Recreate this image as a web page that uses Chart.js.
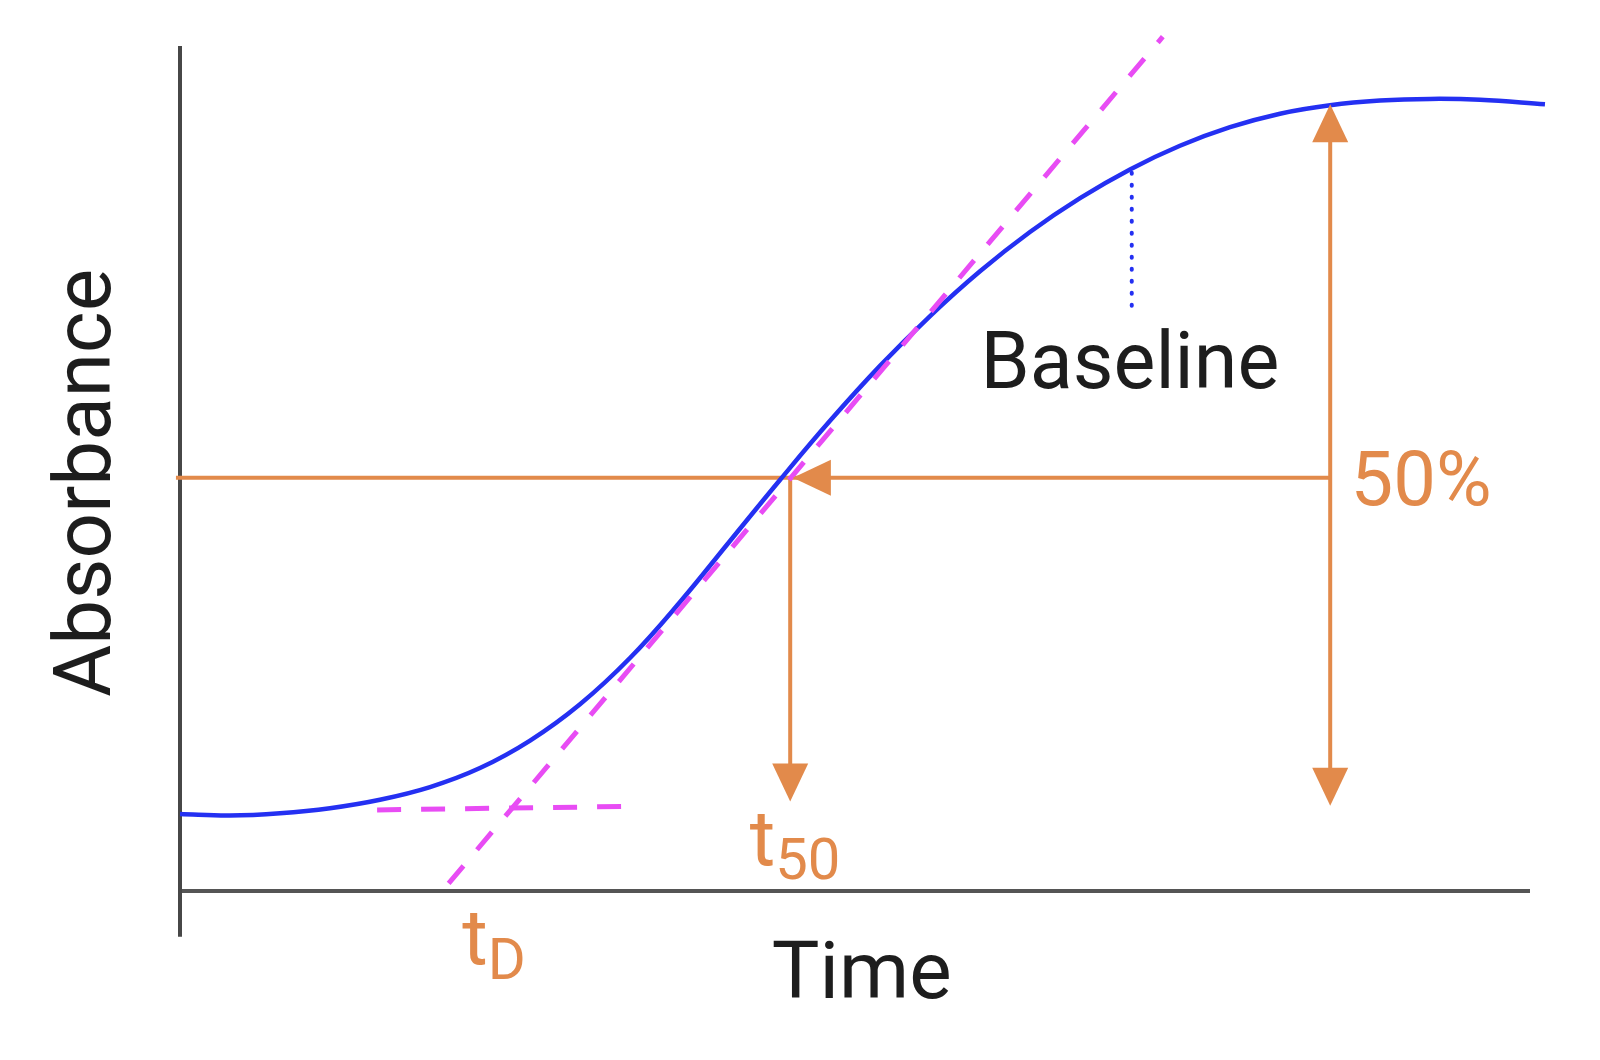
<!DOCTYPE html>
<html><head><meta charset="utf-8">
<script src="https://cdn.jsdelivr.net/npm/chart.js@4.4.0/dist/chart.umd.min.js"></script>
<style>html,body{margin:0;padding:0;background:#fff;}#wrap{width:1600px;height:1060px;position:relative;}</style>
</head><body><div id="wrap"><canvas id="c"></canvas></div>
<script>
// ---- data (time in arbitrary units, absorbance in % of axis height) ----
const curveTime = [0, 3.70, 7.41, 11.11, 14.81, 18.52, 22.22, 25.93, 29.63, 33.33, 37.04, 40.74, 44.44, 48.15, 51.85, 55.56, 59.26, 62.96, 66.67, 70.37, 74.07, 77.78, 81.48, 85.19, 88.89, 92.59, 96.30, 101.11];
const curveAbs  = [9.11, 8.93, 9.20, 9.80, 10.80, 12.30, 14.55, 17.80, 22.10, 27.57, 34.20, 41.42, 48.64, 55.64, 62.14, 68.04, 73.34, 77.99, 81.99, 85.39, 88.19, 90.39, 91.99, 92.99, 93.54, 93.74, 93.64, 93.10];
const tangentTime = [19.9, 72.8];
const tangentAbs  = [0.9, 101.1];
const lagTime = [14.6, 32.8];
const lagAbs  = [9.6, 10.0];
const halfLevel = 48.9;
const halfStart = -0.3;
const t50Time = 45.2;
const t50Tip = 10.6;
const leftTipTime = 45.4;
const plateauTime = 85.2;
const plateauTop = 93.1;
const plateauBottom = 10.1;
const baselineMarkTime = 70.5;
const baselineMarkAbs = [85.0, 69.1];
const axisTime = [0, 100];
const axisAbs = [-5.4, 100];
// label anchors (data units)
const labelText  = ['Absorbance', 'Time', 'Baseline', '50%'];
const labelTime  = [-5.2, 50.5, 59.3, 86.7];
const labelAbs   = [48.3, -12.7, 59.5, 45.7];
const subLabelMain = ['t', 't'];
const subLabelSub  = ['50', 'D'];
const subLabelTime = [42.2, 20.9];
const subLabelAbs  = [3.1, -8.6];
const subLabelSubAbs = [1.4, -10.4];

const ORANGE = '#E28A4B', BLUE = '#2430F2', MAGENTA = '#E84CF4', AXIS = '#474747', TEXT = '#1d1d1d';
const pts = (xs, ys) => xs.map((x, i) => ({x, y: ys[i]}));

const arrowHeads = [
  {x: plateauTime, y: plateauTop, dir: 'up'},
  {x: plateauTime, y: plateauBottom, dir: 'down'},
  {x: t50Time, y: t50Tip, dir: 'down'},
  {x: leftTipTime, y: halfLevel, dir: 'left'}
];

const overlay = {
  id: 'overlay',
  afterDatasetsDraw(chart) {
    const ctx = chart.ctx, sx = chart.scales.x, sy = chart.scales.y;
    ctx.save();
    ctx.fillStyle = ORANGE;
    const L = 38, W = 18;
    arrowHeads.forEach(a => {
      const px = sx.getPixelForValue(a.x), py = sy.getPixelForValue(a.y);
      ctx.beginPath();
      if (a.dir === 'up') { ctx.moveTo(px, py); ctx.lineTo(px - W, py + L); ctx.lineTo(px + W, py + L); }
      if (a.dir === 'down') { ctx.moveTo(px, py); ctx.lineTo(px - W, py - L); ctx.lineTo(px + W, py - L); }
      if (a.dir === 'left') { ctx.moveTo(px, py); ctx.lineTo(px + L, py - W); ctx.lineTo(px + L, py + W); }
      ctx.closePath(); ctx.fill();
    });
    ctx.textBaseline = 'alphabetic';
    ctx.fillStyle = TEXT;
    ctx.font = '400 80px Roboto';
    ctx.save();
    ctx.translate(sx.getPixelForValue(labelTime[0]), sy.getPixelForValue(labelAbs[0]));
    ctx.rotate(-Math.PI / 2);
    ctx.textAlign = 'center';
    ctx.fillText(labelText[0], 0, 0);
    ctx.restore();
    ctx.textAlign = 'center';
    ctx.fillText(labelText[1], sx.getPixelForValue(labelTime[1]), sy.getPixelForValue(labelAbs[1]));
    ctx.textAlign = 'left';
    ctx.font = '400 79px Roboto';
    ctx.fillText(labelText[2], sx.getPixelForValue(labelTime[2]), sy.getPixelForValue(labelAbs[2]));
    ctx.fillStyle = ORANGE;
    ctx.font = '400 76px Roboto';
    ctx.fillText(labelText[3], sx.getPixelForValue(labelTime[3]), sy.getPixelForValue(labelAbs[3]));
    for (let i = 0; i < subLabelMain.length; i++) {
      const px = sx.getPixelForValue(subLabelTime[i]);
      ctx.font = '400 78px Roboto';
      ctx.fillText(subLabelMain[i], px, sy.getPixelForValue(subLabelAbs[i]));
      const w = ctx.measureText(subLabelMain[i]).width;
      ctx.font = '400 58px Roboto';
      ctx.fillText(subLabelSub[i], px + w, sy.getPixelForValue(subLabelSubAbs[i]));
    }
    ctx.restore();
  }
};

const line = (data, color, width, extra) => Object.assign({
  data, borderColor: color, borderWidth: width, showLine: true, pointRadius: 0, fill: false, clip: false
}, extra || {});

new Chart(document.getElementById('c'), {
  type: 'scatter',
  data: {
    datasets: [
      line(pts(tangentTime, tangentAbs), MAGENTA, 5, {borderDash: [23, 21]}),
      line(pts(lagTime, lagAbs), MAGENTA, 5, {borderDash: [24, 20]}),
      line(pts(curveTime, curveAbs), BLUE, 4.5, {tension: 0.4}),
      line(pts([baselineMarkTime, baselineMarkTime], baselineMarkAbs), BLUE, 4, {borderDash: [1, 11], borderCapStyle: 'round'}),
      line(pts([halfStart, plateauTime], [halfLevel, halfLevel]), ORANGE, 4),
      line(pts([t50Time, t50Time], [halfLevel, t50Tip + 2]), ORANGE, 4),
      line(pts([plateauTime, plateauTime], [plateauTop - 2, plateauBottom + 2]), ORANGE, 4),
      line(pts([axisTime[0], axisTime[0]], axisAbs), AXIS, 4),
      line(pts(axisTime, [0, 0]), '#555555', 4)
    ]
  },
  options: {
    responsive: true, maintainAspectRatio: false, animation: false, devicePixelRatio: 1,
    layout: {padding: {left: 153, right: 20.05, top: 20.65, bottom: 109.85}},
    plugins: {legend: {display: false}, tooltip: {enabled: false}},
    scales: {
      x: {type: 'linear', display: false, min: -2, max: 103.7},
      y: {type: 'linear', display: false, min: -7, max: 103}
    }
  },
  plugins: [overlay]
});
</script></body></html>
